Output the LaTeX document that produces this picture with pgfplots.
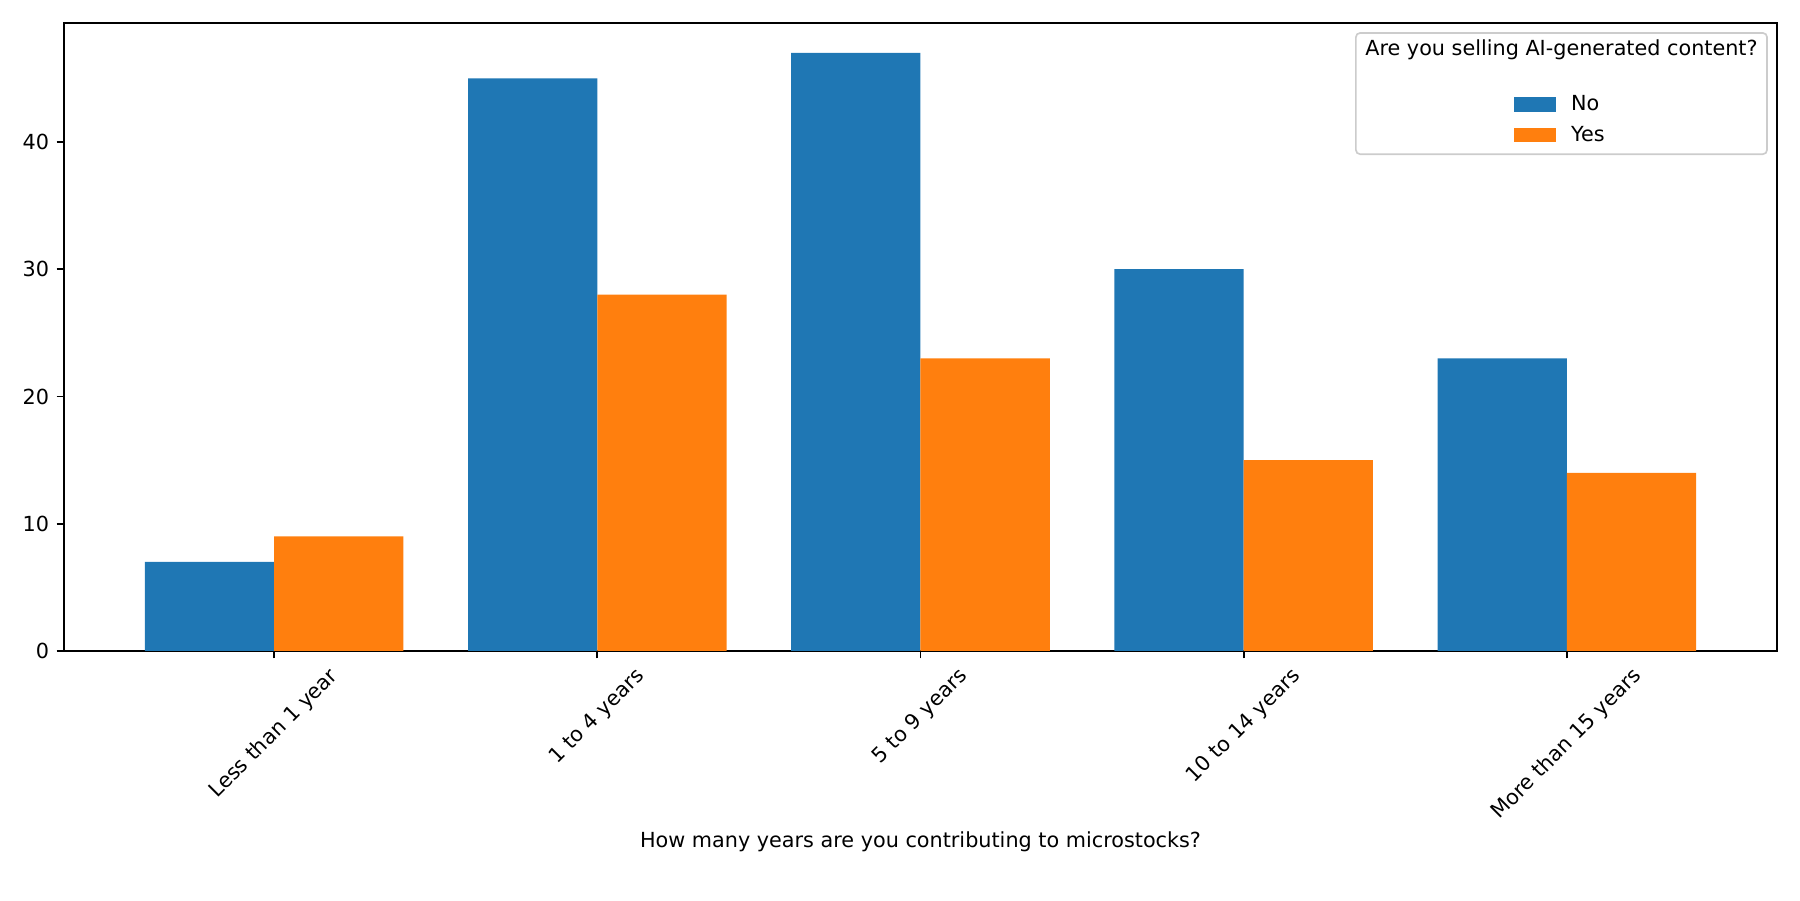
\documentclass[border=0pt]{standalone}
\usepackage{fontspec}
\setmainfont{DejaVu Sans}
\usepackage{graphicx}
\usepackage{pgfplots}
\pgfplotsset{compat=1.18}
\definecolor{mblue}{HTML}{1F77B4}
\definecolor{morange}{HTML}{FF7F0E}
\begin{document}
\begin{tikzpicture}
\useasboundingbox (0,0) rectangle (867.24pt,433.62pt);
\begin{axis}[
  at={(30.84pt,119.97pt)}, anchor=south west,
  scale only axis, width=825.3pt, height=302.6pt,
  xmin=-0.65, xmax=4.65, ymin=0, ymax=49.35,
  ytick={0,10,20,30,40},
  xtick={0,1,2,3,4},
  xticklabels={\rotatebox{45}{Less than 1 year},\rotatebox{45}{1 to 4 years},\rotatebox{45}{5 to 9 years},\rotatebox{45}{10 to 14 years},\rotatebox{45}{More than 15 years}},
  xticklabel style={anchor=north, inner sep=0pt, yshift=-3.5pt},
  yticklabel style={inner sep=0pt, xshift=-3.5pt},
  tick align=outside, tick pos=left,
  major tick length=3.5pt,
  every tick/.style={black, line width=0.8pt},
  axis line style={line width=0.8pt},
  /pgf/number format/assume math mode=true,
  ticklabel style={font=\fontsize{10}{12}\selectfont},
  xlabel={How many years are you contributing to microstocks?},
  xlabel style={at={(axis description cs:0.5,0)}, anchor=center, yshift=-91.8pt, font=\fontsize{10}{12}\selectfont},
  ybar, bar width=0.4,
  legend style={at={(0.8742,0.846)}, anchor=center, draw=none, fill=none,
    font=\fontsize{10}{12}\selectfont, row sep=2pt,
    cells={anchor=west}},
  legend image code/.code={\fill[#1] (0pt,-3.5pt) rectangle (20pt,3.5pt); \path (25.4pt,0pt);},
]
\draw[black!20, fill=white, line width=0.8pt, rounded corners=2pt]
  (rel axis cs:0.7542,0.791) rectangle (rel axis cs:0.9942,0.984);
\node[font=\fontsize{10}{12}\selectfont] at (rel axis cs:0.8742,0.957) {Are you selling AI-generated content?};
\addplot[fill=mblue, draw=none, bar shift=-0.2] coordinates {(0,7) (1,45) (2,47) (3,30) (4,23)};
\addlegendentry{No}
\addplot[fill=morange, draw=none, bar shift=0.2] coordinates {(0,9) (1,28) (2,23) (3,15) (4,14)};
\addlegendentry{Yes}
\end{axis}
\end{tikzpicture}
\end{document}
